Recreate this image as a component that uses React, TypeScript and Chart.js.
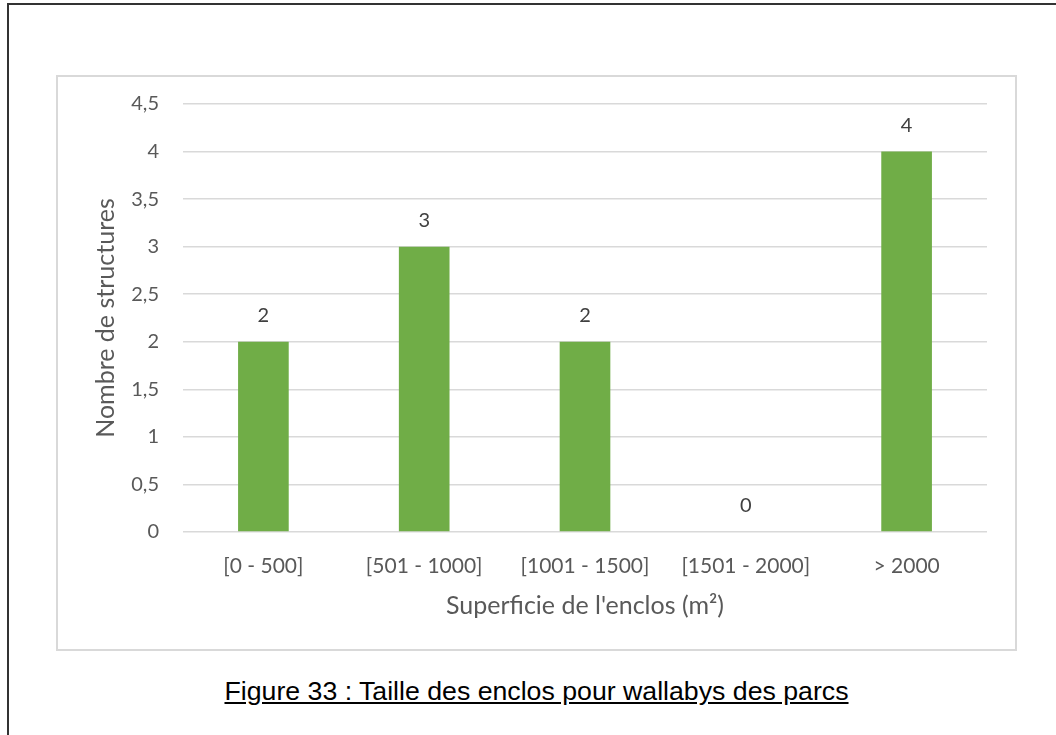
import React, { useEffect, useRef } from "react";
import { Chart, registerables } from "chart.js";

Chart.register(...registerables);

const categories = ["[0 - 500]", "[501 - 1000]", "[1001 - 1500]", "[1501 - 2000]", "> 2000"];
const values = [2, 3, 2, 0, 4];
const yTickValues = [0, 0.5, 1, 1.5, 2, 2.5, 3, 3.5, 4, 4.5];
const yAxisTitle = "Nombre de structures";
const xAxisTitle = "Superficie de l'enclos (m²)";
const caption = "Figure 33 : Taille des enclos pour wallabys des parcs";

const FONT = "Lato, 'Open Sans', sans-serif";

const dataLabelPlugin = {
  id: "dataLabels",
  afterDatasetsDraw(chart: any) {
    const ctx = chart.ctx;
    const meta = chart.getDatasetMeta(0);
    ctx.save();
    ctx.fillStyle = "#404040";
    ctx.font = `20px ${FONT}`;
    ctx.textAlign = "center";
    ctx.textBaseline = "middle";
    meta.data.forEach((bar: any, i: number) => {
      const v = values[i];
      ctx.fillText(String(v), bar.x, bar.y - 26);
    });
    ctx.restore();
  },
};

export default function App() {
  const ref = useRef<HTMLCanvasElement | null>(null);
  useEffect(() => {
    if (!ref.current) return;
    const chart = new Chart(ref.current, {
      type: "bar",
      data: {
        labels: categories,
        datasets: [
          {
            data: values,
            backgroundColor: "#70AD47",
            borderWidth: 0,
            barPercentage: 0.63,
            categoryPercentage: 0.5,
          },
        ],
      },
      options: {
        animation: false,
        responsive: false,
        maintainAspectRatio: false,
        layout: { padding: { left: 0, right: 28, top: 27, bottom: 0 } },
        plugins: {
          legend: { display: false },
          tooltip: { enabled: false },
          title: { display: false },
        },
        scales: {
          x: {
            grid: { display: false, drawTicks: false },
            border: { display: false },
            ticks: {
              color: "#595959",
              font: { family: FONT, size: 21 },
              padding: 22,
              maxRotation: 0,
              autoSkip: false,
            },
            title: {
              display: true,
              text: xAxisTitle,
              color: "#595959",
              font: { family: FONT, size: 25 },
              padding: { top: 0, bottom: 29 },
            },
            afterFit(scale: any) {
              scale.height = 118;
              scale.paddingLeft = 0;
              scale.paddingRight = 0;
            },
          },
          y: {
            min: 0,
            max: 4.5,
            grid: { color: "#d9d9d9", lineWidth: 1.5, drawTicks: false },
            border: { display: false },
            afterBuildTicks(scale: any) {
              scale.ticks = yTickValues.map((v) => ({ value: v }));
            },
            ticks: {
              color: "#595959",
              font: { family: FONT, size: 20 },
              padding: 24,
              callback: (v: any) => String(v).replace(".", ","),
            },
            title: {
              display: true,
              text: yAxisTitle,
              color: "#595959",
              font: { family: FONT, size: 25 },
              padding: { top: 33, bottom: 0 },
            },
            afterFit(scale: any) {
              scale.width = 125;
              scale.paddingTop = 0;
              scale.paddingBottom = 0;
            },
          },
        },
      },
      plugins: [dataLabelPlugin],
    });
    return () => chart.destroy();
  }, []);

  return (
    <div style={{ position: "absolute", left: 0, top: 0, width: 1056, height: 735, background: "#fff", overflow: "hidden" }}>
      <div style={{ position: "absolute", left: 7, top: 3, width: 1100, height: 800, borderLeft: "2px solid #333", borderTop: "2px solid #333" }} />
      <div style={{ position: "absolute", left: 56, top: 75, width: 957, height: 572, border: "2px solid #d9d9d9" }}>
        <canvas ref={ref} width={957} height={573} style={{ display: "block", width: 957, height: 573 }} />
      </div>
      <div
        style={{
          position: "absolute",
          left: 0,
          width: 1073,
          top: 676,
          textAlign: "center",
          fontFamily: "'Liberation Sans', Arial, sans-serif",
          fontSize: 26.7,
          color: "#000",
          textDecoration: "underline",
          lineHeight: "30px",
          whiteSpace: "nowrap",
        }}
      >
        {caption}
      </div>
    </div>
  );
}
